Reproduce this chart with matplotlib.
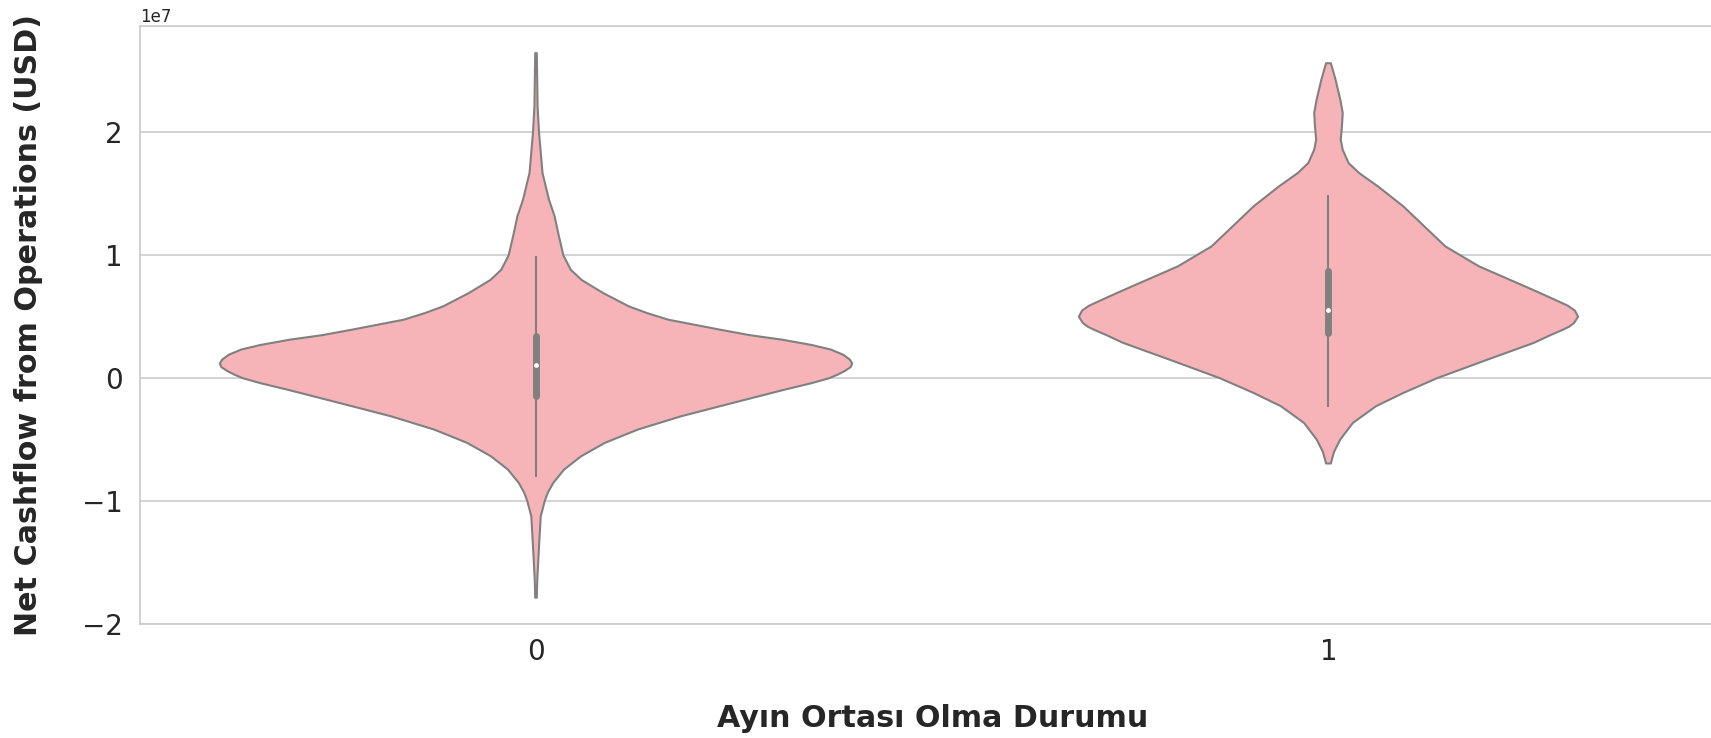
# plot.py
# Violin plot of net operating cashflow, split by mid-month flag.

import matplotlib
matplotlib.use("Agg")
import matplotlib.pyplot as plt

UNIT = 1e7

CATEGORIES = ["0", "1"]

# violin outlines: value (x1e7 USD) and half width
V0_Y = [2.645, 2.21, 2.0, 1.669, 1.452, 1.317, 1.181, 1.0, 0.883, 0.80, 0.693,
        0.585, 0.53, 0.476, 0.395, 0.35, 0.314, 0.27, 0.233, 0.19, 0.151, 0.12,
        0.09, 0.06, 0.03, 0.0, -0.04, -0.093, -0.2, -0.31, -0.418, -0.526,
        -0.635, -0.743, -0.851, -0.93, -1.0, -1.123, -1.367, -1.637, -1.786]
V0_W = [0.001, 0.002, 0.0038, 0.0082, 0.0164, 0.0235, 0.028, 0.0345, 0.0438,
        0.0574, 0.0847, 0.117, 0.14, 0.167, 0.232, 0.27, 0.31, 0.348, 0.372,
        0.388, 0.396, 0.399, 0.397, 0.39, 0.381, 0.37, 0.348, 0.314, 0.249,
        0.183, 0.1285, 0.087, 0.057, 0.0355, 0.0219, 0.015, 0.011, 0.006,
        0.0038, 0.0016, 0.001]

V1_Y = [2.563, 2.428, 2.265, 2.157, 2.048, 1.94, 1.858, 1.75, 1.669, 1.56,
        1.398, 1.235, 1.072, 0.91, 0.747, 0.69, 0.639, 0.59, 0.55, 0.50, 0.45,
        0.42, 0.395, 0.35, 0.287, 0.151, 0.0, -0.12, -0.228, -0.364, -0.499,
        -0.6, -0.694]
V1_W = [0.003, 0.009, 0.015, 0.018, 0.017, 0.0155, 0.018, 0.0255, 0.0388,
        0.0626, 0.0945, 0.121, 0.1476, 0.19, 0.248, 0.268, 0.2855, 0.302, 0.311,
        0.315, 0.31, 0.304, 0.296, 0.28, 0.259, 0.2006, 0.137, 0.0945, 0.06,
        0.0308, 0.0149, 0.007, 0.003]

# inner box stats (x1e7 USD)
WHISK_LO = [-0.797, -0.223]
Q1 = [-0.147, 0.368]
MEDIAN = [0.111, 0.558]
Q3 = [0.341, 0.869]
WHISK_HI = [0.988, 1.479]

FILL = "#F7B4B8"
LINE = "#808080"
GRID = "#cccccc"


def draw_violin(ax, pos, ys, ws):
  ys = [y * UNIT for y in ys]
  right = [pos + w for w in ws]
  left = [pos - w for w in ws]
  xs = right + left[::-1]
  yy = ys + ys[::-1]
  ax.fill(xs, yy, facecolor=FILL, edgecolor=LINE, linewidth=1.5,
          joinstyle="round", zorder=2)


def main():
  fig = plt.figure(figsize=(17.11, 7.38), dpi=100)
  ax = fig.add_axes([0.0817, 0.1545, 0.9263, 0.8103])

  draw_violin(ax, 0, V0_Y, V0_W)
  draw_violin(ax, 1, V1_Y, V1_W)

  for i in range(len(CATEGORIES)):
    ax.plot([i, i], [WHISK_LO[i] * UNIT, WHISK_HI[i] * UNIT], color=LINE,
            linewidth=1.5, zorder=3)
    ax.plot([i, i], [Q1[i] * UNIT, Q3[i] * UNIT], color=LINE, linewidth=5,
            solid_capstyle="round", zorder=3)
    ax.scatter([i], [MEDIAN[i] * UNIT], s=6, color="white", zorder=4)

  ax.set_xlim(-0.5, 1.5)
  ax.set_ylim(-1.995 * UNIT, 2.866 * UNIT)
  ax.set_xticks(range(len(CATEGORIES)))
  ax.set_xticklabels(CATEGORIES)
  ax.set_yticks([-2e7, -1e7, 0, 1e7, 2e7])

  ax.grid(axis="y", color=GRID, linewidth=1.2, zorder=0)
  ax.set_axisbelow(True)
  for s in ax.spines.values():
    s.set_color(GRID)
    s.set_linewidth(1.25)
  ax.spines["right"].set_visible(False)

  ax.tick_params(axis="both", length=0, labelsize=20, colors="#262626")
  ax.tick_params(axis="y", pad=12)
  ax.tick_params(axis="x", pad=10)
  ax.yaxis.get_offset_text().set_fontsize(12)
  ax.yaxis.get_offset_text().set_color("#262626")

  ax.set_xlabel("Ayın Ortası Olma Durumu", fontsize=21.7, fontweight="bold",
                color="#262626")
  ax.set_ylabel("Net Cashflow from Operations (USD)", fontsize=21.7,
                fontweight="bold", color="#262626")
  ax.xaxis.set_label_coords(0.5, -0.134)
  ax.yaxis.set_label_coords(-0.061, 0.5)

  fig.savefig("out.png", dpi=100)


if __name__ == "__main__":
  main()
